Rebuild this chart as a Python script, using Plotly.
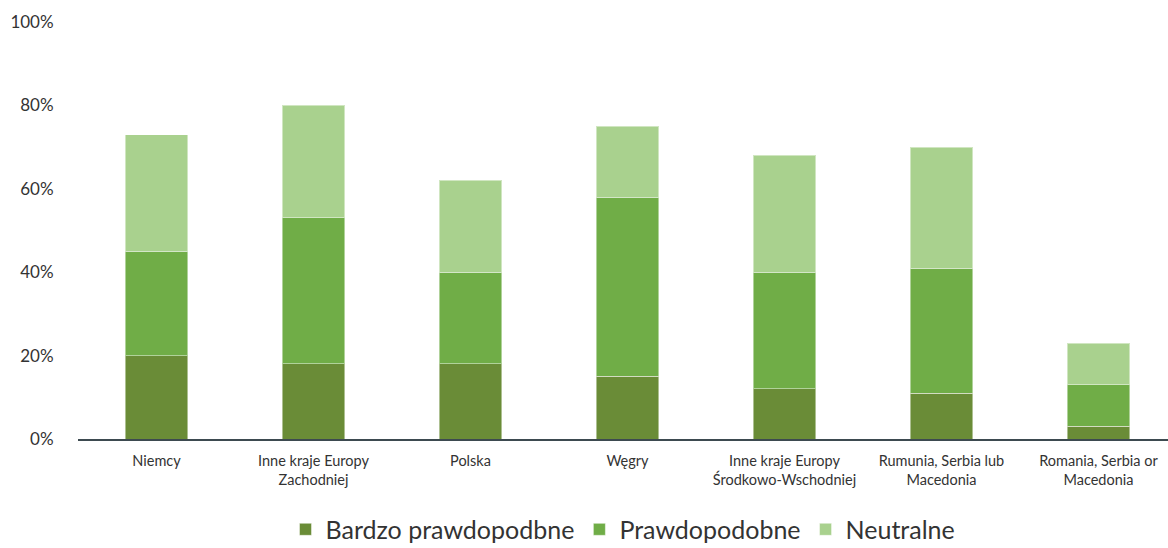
import plotly.graph_objects as go

categories = ["Niemcy", "Inne kraje Europy<br>Zachodniej", "Polska", "Węgry",
              "Inne kraje Europy<br>Środkowo-Wschodniej", "Rumunia, Serbia lub<br>Macedonia",
              "Romania, Serbia or<br>Macedonia"]
bardzo = [20, 18, 18, 15, 12, 11, 3]
prawdopodobne = [25, 35, 22, 43, 28, 30, 10]
neutralne = [28, 27, 22, 17, 28, 29, 10]
y_ticks = [0, 20, 40, 60, 80, 100]
y_tick_labels = ["0%", "20%", "40%", "60%", "80%", "100%"]

series_names = ["Bardzo prawdopodbne", "Prawdopodobne", "Neutralne"]
colors = ["#6A8C37", "#70AD47", "#A9D18E"]

fig = go.Figure()
for name, vals, col in zip(series_names, [bardzo, prawdopodobne, neutralne], colors):
    fig.add_trace(go.Bar(
        x=list(range(len(categories))), y=vals, name=name,
        marker=dict(color=col, line=dict(color="rgba(255,255,255,0.45)", width=1)),
        width=0.40,
    ))

fig.update_layout(
    barmode="stack",
    width=1168, height=548,
    margin=dict(l=78, r=0, t=22, b=109, autoexpand=False),
    plot_bgcolor="white", paper_bgcolor="white",
    font=dict(family="Lato", color="#333333"),
    showlegend=True,
    legend=dict(orientation="h", x=0.5, xanchor="center", y=-0.162, yanchor="top",
                font=dict(size=25, color="#333333"), traceorder="normal",
                itemwidth=30, tracegroupgap=0),
    xaxis=dict(
        tickmode="array", tickvals=list(range(len(categories))), ticktext=categories,
        range=[-0.5, 6.443],
        showline=True, linecolor="#3D4A50", linewidth=2,
        showgrid=False, ticks="outside", ticklen=8, tickcolor="rgba(0,0,0,0)",
        tickfont=dict(size=14.5, color="#333333"),
        automargin=False,
    ),
    yaxis=dict(
        range=[0, 100], tickmode="array", tickvals=y_ticks, ticktext=y_tick_labels,
        showgrid=False, zeroline=False, showline=False,
        tickfont=dict(size=17, color="#333333"), ticks="outside", ticklen=20,
        tickcolor="rgba(0,0,0,0)", automargin=False,
    ),
)

fig.write_html("out.html")
